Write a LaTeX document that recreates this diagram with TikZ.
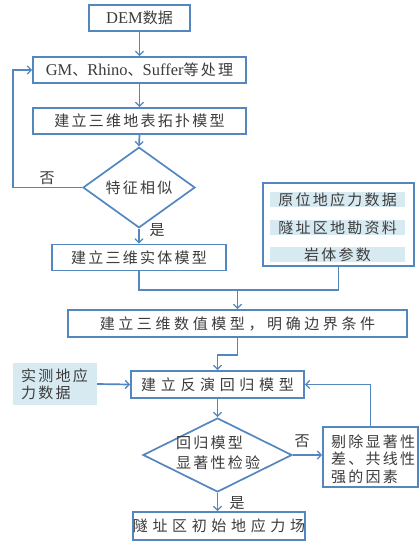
\documentclass[tikz,border=0pt]{standalone}
\usepackage{fontspec}
\setmainfont{Liberation Serif}
\newfontfamily\cjk[LetterSpace=15]{Noto Sans CJK SC}
\newfontfamily\cjkm[LetterSpace=24]{Noto Sans CJK SC}
\newfontfamily\cjkw[LetterSpace=31]{Noto Sans CJK SC}
\newfontfamily\cjkn{Noto Sans CJK SC}
\usetikzlibrary{arrows.meta,shapes.geometric}
\definecolor{lineblue}{RGB}{84,134,192}
\definecolor{shade}{RGB}{216,234,241}
\definecolor{txt}{RGB}{60,60,60}
\newcommand{\lat}{\fontsize{16.5}{18}\selectfont}
\begin{document}
\begin{tikzpicture}[x=1pt,y=-1pt,
  font=\fontsize{15}{18}\selectfont,
  every node/.append style={text=txt},
  box/.style={draw=lineblue,line width=1.7pt,inner sep=0pt,fill=white},
  dia/.style={draw=lineblue,line width=1.7pt,diamond,inner sep=0pt,fill=white},
  bar/.style={fill=shade,inner sep=0pt,minimum width=135pt,minimum height=15pt},
  conn/.style={draw=lineblue,line width=1.7pt},
  arr/.style={conn,-{Straight Barb[length=4pt,width=8pt,line width=1.3pt]}},
  lbl/.style={inner sep=0pt}]
\fill[white] (0,0) rectangle (420,542);
\useasboundingbox (0,0) rectangle (420,542);

\node[box,minimum width=101pt,minimum height=26pt] (dem) at (139.5,18) {{\lat DEM}{\cjkn 数据}};
\node[box,minimum width=213pt,minimum height=26pt] (gm) at (139.5,70) {{\lat GM}{\cjkn 、}{\lat Rhino}{\cjkn 、}{\lat Suffer}{\cjk 等处理}};
\node[box,minimum width=213pt,minimum height=26pt] (topo) at (139.5,121) {\cjk 建立三维地表拓扑模型};
\node[dia,minimum width=112pt,minimum height=61pt] (sim) at (139,187.5) {\cjk 特征相似};
\node[box,minimum width=174pt,minimum height=26pt] (solid) at (139,257.5) {\cjk 建立三维实体模型};

\node[box,minimum width=151pt,minimum height=83pt] (data) at (338.5,224.5) {};
\node[bar] (b1) at (337.5,199.5) {\cjk 原位地应力数据};
\node[bar] (b2) at (337.5,227.5) {\cjk 隧址区地勘资料};
\node[bar] (b3) at (337.5,254.5) {\cjk 岩体参数};

\node[box,minimum width=339pt,minimum height=27pt] (num) at (237.5,323.5) {\cjkm 建立三维数值模型，明确边界条件};
\node[box,minimum width=173pt,minimum height=27pt] (inv) at (217.5,384.5) {\cjkw 建立反演回归模型};
\node[fill=shade,inner sep=0pt,minimum width=84pt,minimum height=42pt] (meas) at (55,384) {};
\node[lbl,align=left,anchor=west,font=\fontsize{15}{17}\selectfont] (meastxt) at (21,384) {\cjk 实测地应\\\cjk 力数据};
\node[dia,minimum width=149pt,minimum height=74pt] (chk) at (217.5,455) {};
\node[lbl,align=left,anchor=west,font=\fontsize{15}{20}\selectfont] (chktxt) at (176,453) {\cjk 回归模型\\\cjk 显著性检验};
\node[box,minimum width=95pt,minimum height=60pt] (rm) at (370.5,457) {};
\node[lbl,align=left,anchor=west,font=\fontsize{15}{17.5}\selectfont] (rmtxt) at (331,459) {\cjk 剔除显著性\\\cjk 差、共线性\\\cjk 强的因素};
\node[box,minimum width=172pt,minimum height=28pt] (field) at (219,526) {\cjkw 隧址区初始地应力场};

\node[lbl] (no1) at (47,178) {\cjkn 否};
\node[lbl] (yes1) at (157,230) {\cjkn 是};
\node[lbl] (no2) at (302,441) {\cjkn 否};
\node[lbl] (yes2) at (237,503) {\cjkn 是};

\coordinate (loop) at (13,187.5);
\coordinate (merge) at (237.5,290);
\coordinate (bend) at (237.5,355);

\draw[arr] (dem) -- (gm);
\draw[arr] (gm) -- (topo);
\draw[arr] (topo.south) -- (sim.north);
\draw[arr] (sim.west) -- (loop) |- (gm.west);
\draw[arr] (sim.south) -- (solid.north);
\draw[conn] (solid.south) |- (merge) -| (data.south);
\draw[arr] (merge) -- (num.north);
\draw[arr] (num.south) -- (bend) -| (inv.north);
\draw[arr] (meas.east) -- (inv.west);
\draw[arr] (inv.south) -- (chk.north);
\draw[arr] (chk.east) -- (chk.east -| rm.west);
\draw[arr] (rm.north) |- (inv.east);
\draw[arr] (chk.south) -- (chk.south |- field.north);
\end{tikzpicture}
\end{document}
